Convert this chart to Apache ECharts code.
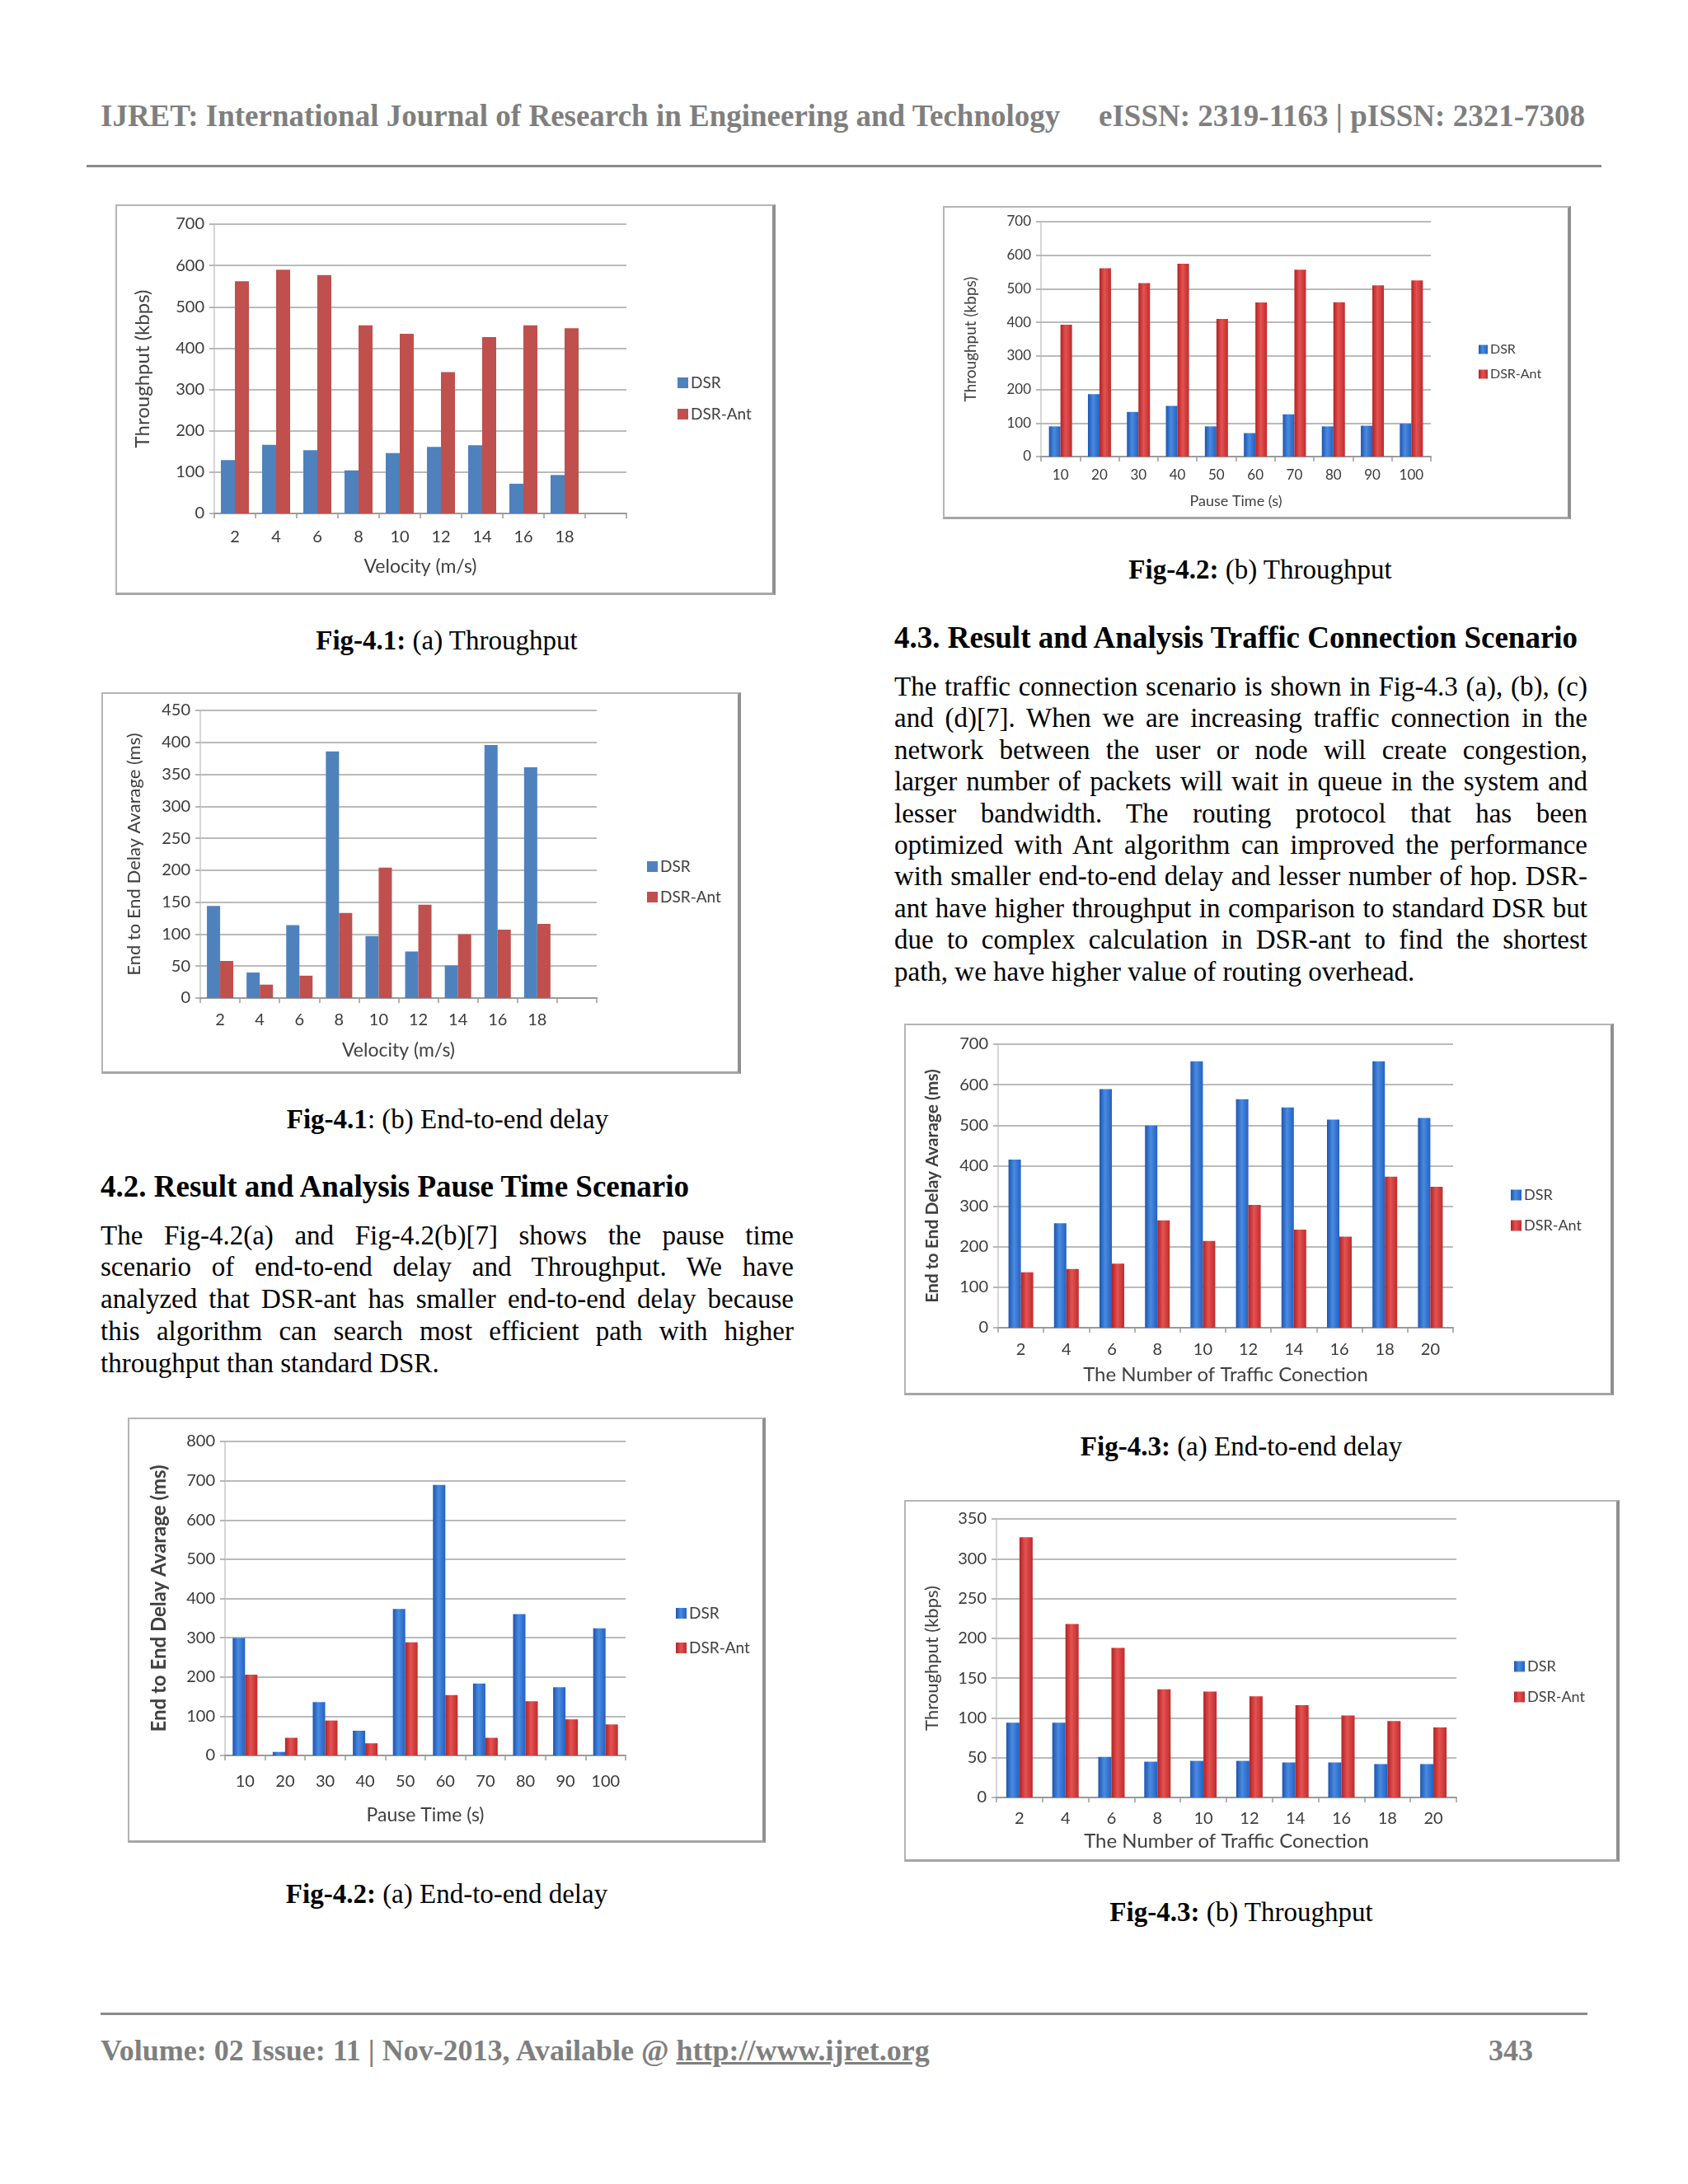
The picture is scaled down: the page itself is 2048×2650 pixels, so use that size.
<!DOCTYPE html>
<html><head><meta charset="utf-8">
<script src="https://cdn.jsdelivr.net/npm/echarts/dist/echarts.min.js"></script>
<style>
html,body{margin:0;padding:0;}
body{width:2048px;height:2650px;background:#fff;position:relative;overflow:hidden;font-family:"Liberation Serif","Times New Roman",serif;color:#000;}
.t{position:absolute;white-space:nowrap;line-height:1;}
.g{color:#7f7f7f;font-weight:bold;}
.cap{position:absolute;width:700px;text-align:center;font-size:33px;line-height:1;white-space:nowrap;}
.h{position:absolute;font-size:37px;font-weight:bold;line-height:1;white-space:nowrap;}
.pl{position:absolute;width:841px;font-size:33px;line-height:1;text-align:justify;text-align-last:justify;}
.pl.last{text-align:left;text-align-last:left;}
.rule{position:absolute;height:3px;background:#8a8a8a;}
.box{position:absolute;box-sizing:border-box;border:2px solid #b4b4b4;border-right:4px solid #8f8f8f;border-bottom:3px solid #a6a6a6;background:#fff;}
.ch{position:absolute;}
</style>
</head><body>
<div class="t g" style="left:122px;top:122px;font-size:37px;">IJRET: International Journal of Research in Engineering and Technology</div>
<div class="t g" style="right:125px;top:122px;font-size:37px;">eISSN: 2319-1163 | pISSN: 2321-7308</div>
<div class="rule" style="left:105px;top:200px;width:1838px;"></div>

<div class="box" style="left:140px;top:248px;width:801px;height:474px;"></div>
<div class="ch" id="cA" style="left:140px;top:248px;width:801px;height:474px;"></div>
<div class="cap" style="left:192px;top:761px;"><b>Fig-4.1:</b> (a) Throughput</div>

<div class="box" style="left:123px;top:840px;width:776px;height:463px;"></div>
<div class="ch" id="cB" style="left:123px;top:840px;width:776px;height:463px;"></div>
<div class="cap" style="left:193px;top:1342px;"><b>Fig-4.1</b>: (b) End-to-end delay</div>

<div class="h" style="left:122px;top:1421px;">4.2. Result and Analysis Pause Time Scenario</div>
<div class="pl" style="left:122px;top:1483px;">The Fig-4.2(a) and Fig-4.2(b)[7] shows the pause time</div>
<div class="pl" style="left:122px;top:1521px;">scenario of end-to-end delay and Throughput. We have</div>
<div class="pl" style="left:122px;top:1560px;">analyzed that DSR-ant has smaller end-to-end delay because</div>
<div class="pl" style="left:122px;top:1599px;">this algorithm can search most efficient path with higher</div>
<div class="pl last" style="left:122px;top:1638px;">throughput than standard DSR.</div>

<div class="box" style="left:155px;top:1720px;width:774px;height:516px;"></div>
<div class="ch" id="cC" style="left:155px;top:1720px;width:774px;height:516px;"></div>
<div class="cap" style="left:192px;top:2282px;"><b>Fig-4.2:</b> (a) End-to-end delay</div>

<div class="box" style="left:1144px;top:250px;width:762px;height:380px;"></div>
<div class="ch" id="cD" style="left:1144px;top:250px;width:762px;height:380px;"></div>
<div class="cap" style="left:1179px;top:675px;"><b>Fig-4.2:</b> (b) Throughput</div>

<div class="h" style="left:1085px;top:755px;">4.3. Result and Analysis Traffic Connection Scenario</div>
<div class="pl" style="left:1085px;top:817px;">The traffic connection scenario is shown in Fig-4.3 (a), (b), (c)</div>
<div class="pl" style="left:1085px;top:855px;">and (d)[7]. When we are increasing traffic connection in the</div>
<div class="pl" style="left:1085px;top:894px;">network between the user or node will create congestion,</div>
<div class="pl" style="left:1085px;top:932px;">larger number of packets will wait in queue in the system and</div>
<div class="pl" style="left:1085px;top:971px;">lesser bandwidth. The routing protocol that has been</div>
<div class="pl" style="left:1085px;top:1009px;">optimized with Ant algorithm can improved the performance</div>
<div class="pl" style="left:1085px;top:1047px;">with smaller end-to-end delay and lesser number of hop. DSR-</div>
<div class="pl" style="left:1085px;top:1086px;">ant have higher throughput in comparison to standard DSR but</div>
<div class="pl" style="left:1085px;top:1124px;">due to complex calculation in DSR-ant to find the shortest</div>
<div class="pl last" style="left:1085px;top:1163px;">path, we have higher value of routing overhead.</div>

<div class="box" style="left:1097px;top:1242px;width:861px;height:451px;"></div>
<div class="ch" id="cE" style="left:1097px;top:1242px;width:861px;height:451px;"></div>
<div class="cap" style="left:1156px;top:1739px;"><b>Fig-4.3:</b> (a) End-to-end delay</div>

<div class="box" style="left:1097px;top:1820px;width:868px;height:439px;"></div>
<div class="ch" id="cF" style="left:1097px;top:1820px;width:868px;height:439px;"></div>
<div class="cap" style="left:1156px;top:2304px;"><b>Fig-4.3:</b> (b) Throughput</div>

<div class="rule" style="left:122px;top:2442px;width:1804px;"></div>
<div class="t g" style="left:122px;top:2470px;font-size:36px;">Volume: 02 Issue: 11 | Nov-2013, Available @ <span style="text-decoration:underline;">http://www.ijret.org</span></div>
<div class="t g" style="right:188px;top:2470px;font-size:36px;">343</div>

<script>
// ---- data ----
const velocity = ['2','4','6','8','10','12','14','16','18',''];
const pauseTime = ['10','20','30','40','50','60','70','80','90','100'];
const trafficConn = ['2','4','6','8','10','12','14','16','18','20'];
const seriesNames = ['DSR','DSR-Ant'];

const tpVel_DSR    = [129,166,153,104,146,161,165,72,93];
const tpVel_Ant    = [562,590,577,455,435,342,427,455,448];
const edVel_DSR    = [144,40,114,386,97,73,51,396,361];
const edVel_Ant    = [58,21,35,133,204,146,100,107,116];
const edPause_DSR  = [299,9,136,63,373,689,183,360,174,324];
const edPause_Ant  = [206,45,89,31,288,154,45,138,92,79];
const tpPause_DSR  = [90,186,133,151,90,70,126,90,92,98];
const tpPause_Ant  = [393,561,517,575,410,459,557,460,510,525];
const edTraf_DSR   = [415,258,589,499,658,564,544,514,658,518];
const edTraf_Ant   = [137,145,158,265,214,303,242,225,373,348];
const tpTraf_DSR   = [94,94,51,45,46,46,44,44,42,42];
const tpTraf_Ant   = [327,218,188,136,133,127,116,103,96,88];

// ---- styling ----
const FONT = 'Lato, "Noto Sans", sans-serif';
const flatBlue = '#4f81bd', flatRed = '#c0504d';
function grad(a,b,c){
  return new echarts.graphic.LinearGradient(0,0,1,0,[
    {offset:0,color:a},{offset:0.45,color:b},{offset:1,color:c}]);
}
const gBlue = grad('#1d55ad','#4a8ae0','#2262c2');
const gRed  = grad('#b22222','#e45252','#c02b2b');

function build(id, c){
  const chart = echarts.init(document.getElementById(id), null, {renderer:'canvas'});
  chart.setOption({
    animation:false,
    textStyle:{fontFamily:FONT},
    grid:{left:c.gl, top:c.gt, width:c.gw, height:c.gh},
    legend:{orient:'vertical', left:c.ll, top:c.lt, padding:0, itemWidth:c.iw, itemHeight:c.iw,
      itemGap:c.lg, icon:'rect', data:seriesNames,
      textStyle:{fontSize:c.lf, color:'#404040', fontFamily:FONT, padding:[0,0,0,-2]}},
    xAxis:{type:'category', data:c.cats, boundaryGap:true,
      name:c.xname, nameLocation:'middle', nameGap:c.xng,
      nameTextStyle:{fontSize:c.xnf, color:'#404040', fontFamily:FONT},
      axisLine:{lineStyle:{color:'#9a9a9a', width:2}},
      axisTick:{show:true, length:6, interval:0, lineStyle:{color:'#9a9a9a', width:1.5}},
      axisLabel:{interval:0, margin:c.xm, fontSize:c.tf, color:'#3a3a3a', fontFamily:FONT},
      splitLine:{show:false}},
    yAxis:{type:'value', min:0, max:c.ymax, interval:c.yint,
      name:c.yname, nameLocation:'middle', nameRotate:90, nameGap:c.yng,
      nameTextStyle:{fontSize:c.ynf, color:'#404040', fontFamily:FONT, fontWeight:c.ynb?'bold':'normal'},
      axisLine:{show:true, lineStyle:{color:'#c8c8c8', width:1.5}},
      axisTick:{show:true, length:6, lineStyle:{color:'#a0a0a0', width:1.5}},
      axisLabel:{margin:12, fontSize:c.tf, color:'#3a3a3a', fontFamily:FONT},
      splitLine:{lineStyle:{color:'#a3a3a3', width:1.6}}},
    series:[
      {name:seriesNames[0], type:'bar', data:c.d1, barWidth:c.bw, barGap:'0%', itemStyle:{color:c.c1}},
      {name:seriesNames[1], type:'bar', data:c.d2, barWidth:c.bw, barGap:'0%', itemStyle:{color:c.c2}}
    ]
  });
}

build('cA',{cats:velocity,d1:tpVel_DSR,d2:tpVel_Ant,c1:flatBlue,c2:flatRed,
  gl:120,gt:24,gw:500,gh:351,ymax:700,yint:100,bw:17,tf:20,
  yname:'Throughput (kbps)',ynf:24,yng:75,xname:'Velocity (m/s)',xnf:23,xng:53,xm:19,
  ll:682,lt:207,iw:13,lg:19,lf:19});
build('cB',{cats:velocity,d1:edVel_DSR,d2:edVel_Ant,c1:flatBlue,c2:flatRed,
  gl:120,gt:22,gw:481,gh:349,ymax:450,yint:50,bw:16,tf:20,
  yname:'End to End Delay Avarage (ms)',ynf:22,yng:69,xname:'Velocity (m/s)',xnf:23,xng:52,xm:17,
  ll:662,lt:202,iw:13,lg:18,lf:19});
build('cC',{cats:pauseTime,d1:edPause_DSR,d2:edPause_Ant,c1:gBlue,c2:gRed,
  gl:118,gt:29,gw:486,gh:381,ymax:800,yint:100,bw:15,tf:20,
  yname:'End to End Delay Avarage (ms)',ynf:24,ynb:true,yng:68,xname:'Pause Time (s)',xnf:23,xng:61,xm:22,
  ll:665,lt:228,iw:13,lg:23,lf:19});
build('cD',{cats:pauseTime,d1:tpPause_DSR,d2:tpPause_Ant,c1:gBlue,c2:gRed,
  gl:119,gt:19,gw:473,gh:285,ymax:700,yint:100,bw:14,tf:17,
  yname:'Throughput (kbps)',ynf:19,yng:76,xname:'Pause Time (s)',xnf:18,xng:45,xm:14,
  ll:650,lt:166,iw:11,lg:14,lf:16});
build('cE',{cats:trafficConn,d1:edTraf_DSR,d2:edTraf_Ant,c1:gBlue,c2:gRed,
  gl:114,gt:25,gw:552,gh:344,ymax:700,yint:100,bw:15,tf:20,
  yname:'End to End Delay Avarage (ms)',ynf:21,ynb:true,yng:69,xname:'The Number of Traffic Conection',xnf:24,xng:45,xm:17,
  ll:736,lt:199,iw:13,lg:19,lf:18});
build('cF',{cats:trafficConn,d1:tpTraf_DSR,d2:tpTraf_Ant,c1:gBlue,c2:gRed,
  gl:112,gt:23,gw:558,gh:338,ymax:350,yint:50,bw:16,tf:20,
  yname:'Throughput (kbps)',ynf:22,yng:67,xname:'The Number of Traffic Conection',xnf:24,xng:34,xm:16,
  ll:740,lt:193,iw:13,lg:19,lf:18});
</script>
</body></html>
